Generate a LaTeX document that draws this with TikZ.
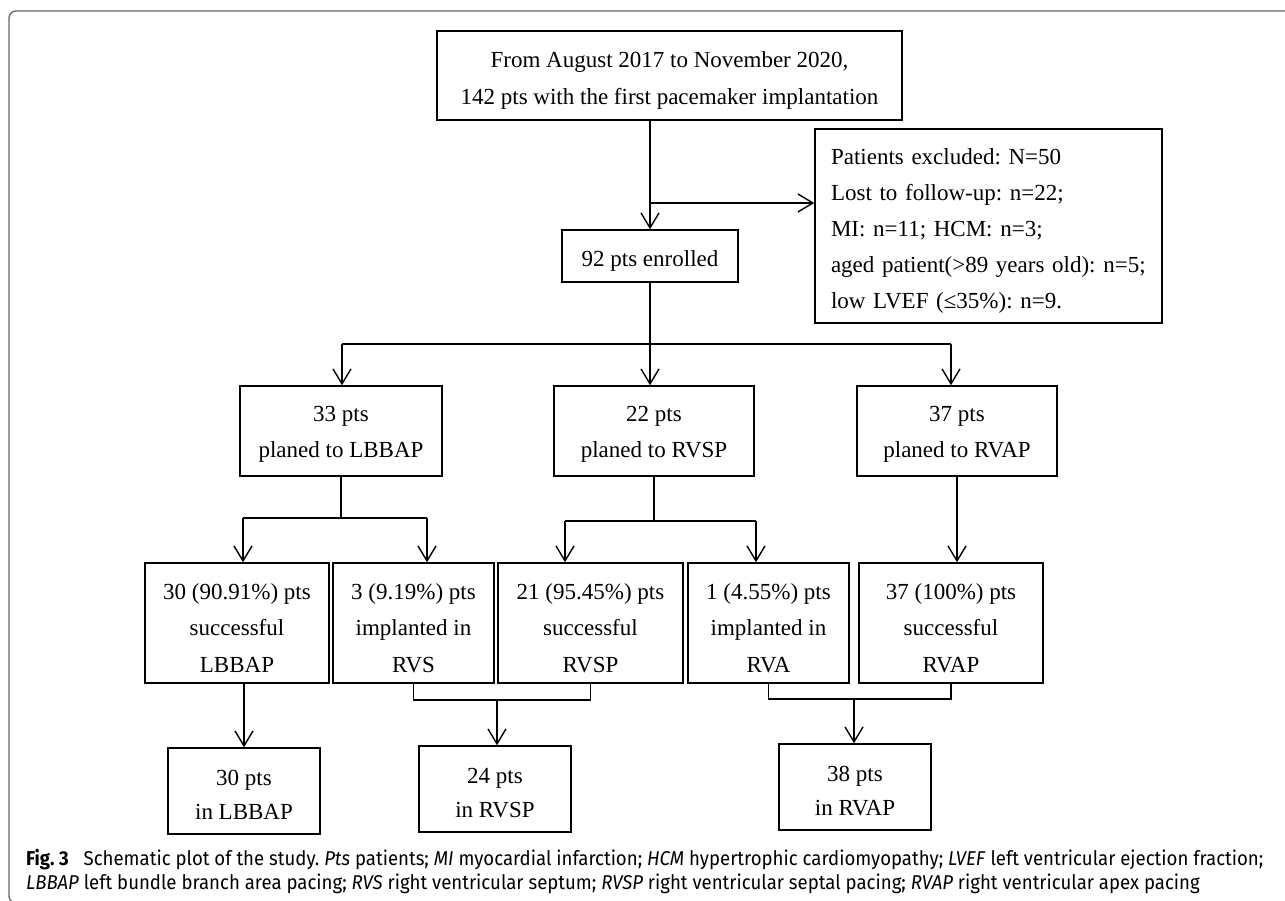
\documentclass[tikz,border=0pt]{standalone}
\usepackage{fontspec}
\setmainfont{Liberation Serif}
\newfontfamily\capfont[FakeStretch=0.93]{Fira Sans}
\usetikzlibrary{arrows.meta,positioning,calc}
\frenchspacing
\newcommand\topgap[1]{\rule{0pt}{#1}}

\begin{document}
\begin{tikzpicture}[x=1pt, y=-1pt,
    box/.style={draw, line width=1.5pt, align=center, inner sep=0pt,
                font=\fontsize{23}{36.5}\selectfont},
    planbox/.style={box, minimum width=200pt, minimum height=90pt},
    resbox/.style={box, minimum height=120pt},
    endbox/.style={box, minimum width=152pt, minimum height=86pt,
                   font=\fontsize{23}{34}\selectfont},
    arr/.style={-{Straight Barb[length=15pt, width=18pt, line width=1.4pt]}, line width=1.5pt},
    link/.style={line width=1.5pt},
    frame/.style={draw=black!60, line width=1.3pt, rounded corners=7pt}
  ]
  \useasboundingbox (0,0) rectangle (1285,900);
  \draw[frame] (1300,11) -- (9,11) -- (9,903) -- (40,903);

  % top part
  \node[box, minimum width=465pt, minimum height=89pt,
        font=\fontsize{23}{37}\selectfont] (start) at (669.5,75.5)
        {\topgap{26pt}From August 2017 to November 2020,\\142 pts with the first pacemaker implantation};
  \node[box, align=left, text width=315pt, inner xsep=16pt, minimum height=194pt,
        font=\fontsize{23}{36}\selectfont] (excl) at (988.5,226)
        {\topgap{26pt}Patients excluded: N=50\\Lost to follow-up: n=22;\\MI: n=11; HCM: n=3;\\aged patient(>89 years old): n=5;\\low LVEF (≤35\%): n=9.};
  \node[box, minimum width=176pt, minimum height=52pt] (enr) at (650,256) {\topgap{26pt}92 pts enrolled};

  % planned groups
  \node[planbox, minimum width=202pt] (pl1) at (341,431) {\topgap{22pt}33 pts\\planed to LBBAP};
  \node[planbox] (pl2) at (654,431) {\topgap{22pt}22 pts\\planed to RVSP};
  \node[planbox] (pl3) at (957,431) {\topgap{22pt}37 pts\\planed to RVAP};

  % implant results
  \node[resbox, minimum width=184pt] (r1) at (237,623) {\topgap{26pt}30 (90.91\%) pts\\successful\\LBBAP};
  \node[resbox, minimum width=161pt] (r2) at (413.5,623) {\topgap{26pt}3 (9.19\%) pts\\implanted in\\RVS};
  \node[resbox, minimum width=185pt] (r3) at (590.5,623) {\topgap{26pt}21 (95.45\%) pts\\successful\\RVSP};
  \node[resbox, minimum width=161pt] (r4) at (768.5,623) {\topgap{26pt}1 (4.55\%) pts\\implanted in\\RVA};
  \node[resbox, minimum width=184pt] (r5) at (951,623) {\topgap{26pt}37 (100\%) pts\\successful\\RVAP};

  % final groups
  \node[endbox] (f1) at (244,791) {\topgap{24pt}30 pts\\in LBBAP};
  \node[endbox] (f2) at (495,789) {\topgap{24pt}24 pts\\in RVSP};
  \node[endbox] (f3) at (855,787) {\topgap{24pt}38 pts\\in RVAP};

  % junctions
  \coordinate (ex) at (650,203);
  \coordinate (s1) at (650,344);
  \coordinate (s1l) at (342,344);
  \coordinate (s1r) at (951,344);
  \coordinate (s2l) at (243,518);
  \coordinate (s2r) at (427,518);
  \coordinate (s3l) at (565,521);
  \coordinate (s3r) at (756,521);
  \coordinate (m2) at (497,700);
  \coordinate (m3) at (854,699);

  \draw[arr] (start.south -| enr.north) -- (enr.north);
  \draw[arr] (ex) -- (ex -| excl.west);

  \draw[link] (enr.south) -- (s1);
  \draw[link] (s1l) -- (s1r);
  \draw[arr] (s1l) -- (s1l |- pl1.north);
  \draw[arr] (s1) -- (s1 |- pl2.north);
  \draw[arr] (s1r) -- (s1r |- pl3.north);

  \draw[link] (pl1.south) -- (pl1.south |- s2l);
  \draw[link] (s2l) -- (s2r);
  \draw[arr] (s2l) -- (s2l |- r1.north);
  \draw[arr] (s2r) -- (s2r |- r2.north);

  \draw[link] (pl2.south) -- (pl2.south |- s3l);
  \draw[link] (s3l) -- (s3r);
  \draw[arr] (s3l) -- (s3l |- r3.north);
  \draw[arr] (s3r) -- (s3r |- r4.north);

  \draw[arr] (pl3.south) -- (pl3.south |- r5.north);

  \draw[arr] (r1.south -| f1.north) -- (f1.north);
  \draw[link] (r2.south) |- (m2 -| r3.south) -- (r3.south);
  \draw[arr] (m2) -- (m2 |- f2.north);
  \draw[link] (r4.south) |- (m3 -| r5.south) -- (r5.south);
  \draw[arr] (m3) -- (m3 |- f3.north);

  % caption
  \node[anchor=base west, align=left, inner sep=0pt,
        font=\capfont\fontsize{20}{24}\selectfont] (cap) at (26,889)
        {\textbf{Fig. 3}\hspace{0.5em} Schematic plot of the study. \textit{Pts} patients; \textit{MI} myocardial infarction; \textit{HCM} hypertrophic cardiomyopathy; \textit{LVEF} left ventricular ejection fraction;\\
         \textit{LBBAP} left bundle branch area pacing; \textit{RVS} right ventricular septum; \textit{RVSP} right ventricular septal pacing; \textit{RVAP} right ventricular apex pacing};
\end{tikzpicture}
\end{document}
